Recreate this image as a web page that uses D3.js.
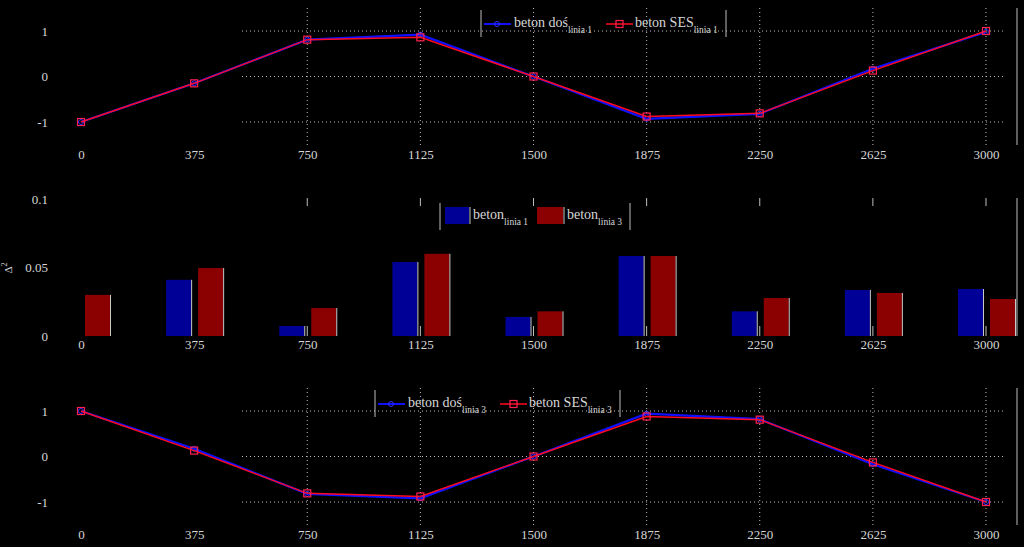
<!DOCTYPE html>
<html>
<head>
<meta charset="utf-8">
<script src="https://cdn.jsdelivr.net/npm/d3@7/dist/d3.min.js"></script>
<style>
  html, body { margin: 0; padding: 0; background: #000; }
  svg { display: block; }
</style>
</head>
<body>
<div id="container"></div>
<script>
// Data
const positions = [0, 375, 750, 1125, 1500, 1875, 2250, 2625, 3000];

// top panel: linia 1
const dosLinia1 = [-1, -0.15, 0.81, 0.92, 0, -0.93, -0.82, 0.17, 0.98];
const sesLinia1 = [-1, -0.15, 0.81, 0.86, 0, -0.88, -0.81, 0.13, 1.0];

// middle panel: bar values
const betonLinia1 = [0, 0.041, 0.0073, 0.054, 0.0139, 0.0584, 0.018, 0.0336, 0.0343];
const betonLinia3 = [0.030, 0.0496, 0.0204, 0.060, 0.018, 0.0584, 0.0277, 0.0314, 0.027];

// bottom panel: linia 3
const dosLinia3 = [1, 0.17, -0.82, -0.92, 0, 0.94, 0.82, -0.17, -1];
const sesLinia3 = [1, 0.13, -0.81, -0.88, 0, 0.88, 0.81, -0.13, -1];

const lineTicks = [-1, 0, 1];
const barTicks = [0, 0.05, 0.1];

const width = 1024;
const height = 547;
const textColor = "#d6d6d6";
const gridColor = "#bdbdbd";
const serif = "'Liberation Serif', 'DejaVu Serif', serif";

const svg = d3.create("svg").attr("width", width).attr("height", height)
  .style("background", "#000");

svg.append("rect").attr("width", width).attr("height", height).attr("fill", "#000");

const x = d3.scaleLinear().domain([0, 3000]).range([81, 986]);
const gridLeft = 242;
const gridRight = 1004;
const borderX = 1017;

function xLabels(g, y) {
  g.append("g")
    .attr("transform", `translate(0,${y})`)
    .call(d3.axisBottom(x).tickValues(positions).tickSize(0).tickPadding(0).tickFormat(d => String(d)))
    .call(a => a.select(".domain").remove())
    .call(a => a.selectAll("text")
      .attr("fill", textColor).attr("font-family", serif).attr("font-size", 13));
}

function yLabels(g, y, ticks) {
  g.append("g")
    .attr("transform", `translate(48,0)`)
    .call(d3.axisLeft(y).tickValues(ticks).tickSize(0).tickPadding(0).tickFormat(d => String(d)))
    .call(a => a.select(".domain").remove())
    .call(a => a.selectAll("text")
      .attr("fill", textColor).attr("font-family", serif).attr("font-size", 13));
}

function legendText(g, tx, ty, main, sub) {
  const t = g.append("text").attr("x", tx).attr("y", ty)
    .attr("fill", textColor).attr("font-family", serif).attr("font-size", 14);
  t.append("tspan").text(main);
  t.append("tspan").attr("font-size", 9.5).attr("dy", 6).text(sub);
}

function linePanel(top, bottom, yTop, yBot, blue, red, legend) {
  const g = svg.append("g");
  const y = d3.scaleLinear().domain([-1, 1]).range([yBot, yTop]);

  // grid (only drawn on the right part, as in the picture)
  g.append("g").selectAll("line").data(lineTicks).join("line")
    .attr("x1", gridLeft).attr("x2", gridRight)
    .attr("y1", d => y(d)).attr("y2", d => y(d))
    .attr("stroke", gridColor).attr("stroke-width", 1).attr("stroke-dasharray", "1,3");
  g.append("g").selectAll("line").data(positions.filter(p => p >= 750)).join("line")
    .attr("x1", d => x(d)).attr("x2", d => x(d))
    .attr("y1", top).attr("y2", bottom)
    .attr("stroke", gridColor).attr("stroke-width", 1).attr("stroke-dasharray", "1,3");
  g.append("line").attr("x1", borderX).attr("x2", borderX).attr("y1", top).attr("y2", bottom)
    .attr("stroke", gridColor).attr("stroke-width", 1);

  yLabels(g, y, lineTicks);
  xLabels(g, bottom + 5);

  const line = d3.line().x((d, i) => x(positions[i])).y(d => y(d));

  g.append("path").datum(blue).attr("d", line)
    .attr("fill", "none").attr("stroke", "#1010ff").attr("stroke-width", 2.2);
  g.append("g").selectAll("circle").data(blue).join("circle")
    .attr("cx", (d, i) => x(positions[i])).attr("cy", d => y(d)).attr("r", 2.5)
    .attr("fill", "none").attr("stroke", "#3030ff").attr("stroke-width", 1);

  g.append("path").datum(red).attr("d", line)
    .attr("fill", "none").attr("stroke", "#ff0a20").attr("stroke-width", 1.5);
  g.append("g").selectAll("rect").data(red).join("rect")
    .attr("x", (d, i) => x(positions[i]) - 3.5).attr("y", d => y(d) - 3.5)
    .attr("width", 7).attr("height", 7)
    .attr("fill", "none").attr("stroke", "#ff2050").attr("stroke-width", 1.2);

  // legend
  const lg = g.append("g");
  const ly = legend.y;
  lg.append("line").attr("x1", legend.x0).attr("x2", legend.x0).attr("y1", ly - 14).attr("y2", ly + 13)
    .attr("stroke", gridColor);
  lg.append("line").attr("x1", legend.x1).attr("x2", legend.x1).attr("y1", ly - 14).attr("y2", ly + 13)
    .attr("stroke", gridColor);
  const bx = legend.x0 + 3;
  lg.append("line").attr("x1", bx).attr("x2", bx + 27).attr("y1", ly).attr("y2", ly)
    .attr("stroke", "#1010ff").attr("stroke-width", 2);
  lg.append("circle").attr("cx", bx + 13).attr("cy", ly).attr("r", 2.5)
    .attr("fill", "none").attr("stroke", "#3030ff");
  legendText(lg, bx + 30, ly + 3, "beton doś", legend.sub);
  const rx = legend.rx;
  lg.append("line").attr("x1", rx).attr("x2", rx + 27).attr("y1", ly).attr("y2", ly)
    .attr("stroke", "#ff0a20").attr("stroke-width", 1.5);
  lg.append("rect").attr("x", rx + 10).attr("y", ly - 3.5).attr("width", 7).attr("height", 7)
    .attr("fill", "none").attr("stroke", "#ff2050").attr("stroke-width", 1.2);
  legendText(lg, rx + 29, ly + 3, "beton SES", legend.sub);
}

linePanel(8, 145, 31, 122, dosLinia1, sesLinia1, { x0: 481, x1: 726, rx: 606, y: 24, sub: "linia 1" });
linePanel(388, 525, 411, 502, dosLinia3, sesLinia3, { x0: 375, x1: 620, rx: 500, y: 404, sub: "linia 3" });

// middle panel: bars
{
  const g = svg.append("g");
  const top = 198, bottom = 336;
  const y = d3.scaleLinear().domain([0, 0.1]).range([bottom, 199]);

  yLabels(g, y, barTicks);
  xLabels(g, bottom + 4);

  g.append("text").attr("transform", "translate(12,268) rotate(-90)")
    .attr("text-anchor", "middle").attr("fill", textColor)
    .attr("font-family", serif).attr("font-size", 11)
    .call(t => { t.append("tspan").text("Δ"); t.append("tspan").attr("font-size", 8).attr("dy", -5).text("2"); });

  const tickPos = positions.filter(p => p >= 750);
  g.append("g").selectAll("line").data(tickPos).join("line")
    .attr("x1", d => x(d)).attr("x2", d => x(d)).attr("y1", top).attr("y2", top + 8)
    .attr("stroke", gridColor);
  g.append("g").selectAll("line").data(tickPos).join("line")
    .attr("x1", d => x(d)).attr("x2", d => x(d)).attr("y1", bottom - 10).attr("y2", bottom)
    .attr("stroke", gridColor);
  g.append("line").attr("x1", borderX).attr("x2", borderX).attr("y1", top).attr("y2", bottom)
    .attr("stroke", gridColor);

  const bw = 25;
  const series = [
    { values: betonLinia1, off: -28, color: "#000096" },
    { values: betonLinia3, off: 4, color: "#8b0000" }
  ];
  series.forEach(s => {
    g.append("g").selectAll("rect").data(s.values).join("rect")
      .attr("x", (d, i) => x(positions[i]) + s.off).attr("y", d => y(d))
      .attr("width", bw).attr("height", d => bottom - y(d))
      .attr("fill", s.color);
    // light edge on the right side of each bar
    g.append("g").selectAll("line").data(s.values).join("line")
      .attr("x1", (d, i) => x(positions[i]) + s.off + bw + 0.5)
      .attr("x2", (d, i) => x(positions[i]) + s.off + bw + 0.5)
      .attr("y1", d => y(d)).attr("y2", bottom)
      .attr("stroke", d => d > 0 ? "#c8c8c8" : "none").attr("stroke-width", 1);
  });

  // legend
  const lg = g.append("g");
  [440, 630].forEach(lx => lg.append("line").attr("x1", lx).attr("x2", lx)
    .attr("y1", 203).attr("y2", 230).attr("stroke", gridColor));
  lg.append("rect").attr("x", 445).attr("y", 207).attr("width", 24).attr("height", 17).attr("fill", "#000096");
  lg.append("line").attr("x1", 470).attr("x2", 470).attr("y1", 207).attr("y2", 224).attr("stroke", "#c8c8c8");
  legendText(lg, 473, 219, "beton", "linia 1");
  lg.append("rect").attr("x", 537).attr("y", 207).attr("width", 26).attr("height", 17).attr("fill", "#8b0000");
  lg.append("line").attr("x1", 564).attr("x2", 564).attr("y1", 207).attr("y2", 224).attr("stroke", "#c8c8c8");
  legendText(lg, 567, 219, "beton", "linia 3");
}

document.getElementById("container").append(svg.node());
</script>
</body>
</html>
